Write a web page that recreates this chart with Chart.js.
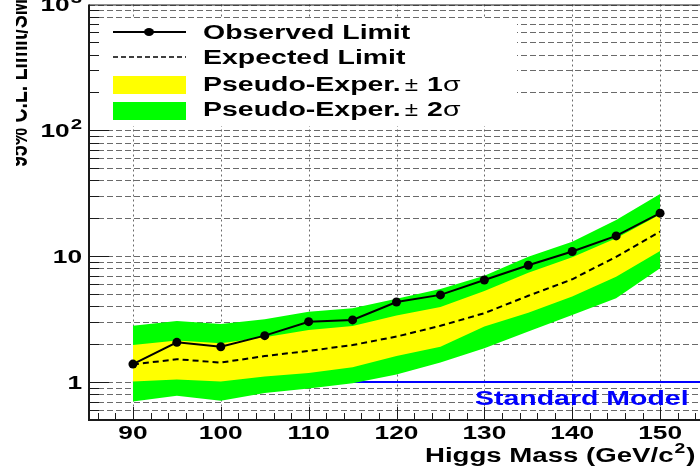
<!DOCTYPE html>
<html>
<head>
<meta charset="utf-8">
<script src="https://cdn.jsdelivr.net/npm/chart.js@4.4.1/dist/chart.umd.min.js"></script>
<style>
  html, body { margin: 0; padding: 0; background: #fff; overflow: hidden; }
  body { width: 700px; height: 467px; position: relative; }
  #limit-canvas { position: absolute; left: 16px; top: 0; }
</style>
</head>
<body>
<canvas id="limit-canvas" width="700" height="467"></canvas>
<script>
// Higgs mass points (GeV/c^2) and 95% C.L. limits / SM
const masses   = [90, 95, 100, 105, 110, 115, 120, 125, 130, 135, 140, 145, 150];
const observed = [1.39, 2.07, 1.91, 2.34, 3.02, 3.12, 4.33, 4.93, 6.48, 8.48, 10.9, 14.5, 22.0];
const expected = [1.38, 1.52, 1.43, 1.61, 1.77, 1.97, 2.30, 2.80, 3.53, 4.85, 6.56, 9.9, 15.7];
const plus1    = [1.97, 2.14, 2.04, 2.27, 2.60, 2.79, 3.38, 3.95, 5.30, 7.40, 9.8, 13.9, 21.5];
const minus1   = [1.01, 1.05, 1.01, 1.11, 1.18, 1.31, 1.61, 1.91, 2.76, 3.55, 4.78, 6.88, 11.0];
const plus2    = [2.81, 3.06, 2.90, 3.16, 3.63, 3.86, 4.60, 5.50, 7.00, 9.90, 13.06, 19.4, 31.2];
const minus2   = [0.70, 0.78, 0.71, 0.82, 0.89, 0.98, 1.15, 1.43, 1.86, 2.52, 3.42, 4.64, 8.03];

// standard model reference level
const smMass  = [90, 155];
const smLevel = [1, 1];

const xTickValues = [90, 100, 110, 120, 130, 140, 150];
const yTickValues = [1, 10, 100, 1000];
const yTickBase   = ["1", "10", "10", "10"];
const yTickExp    = ["", "", "2", "3"];

const legendLabels = ["Observed Limit", "Expected Limit", "Pseudo-Exper.", "Pseudo-Exper."];

const FONT = "'Liberation Sans', Arial, Helvetica, sans-serif";
const STRETCH = 1.46;

function points(xs, ys) {
  return xs.map((x, i) => ({ x: x, y: ys[i] }));
}

// draws text squeezed wider, the way the labels sit on this plot
function wideText(ctx, text, x, y, sx, align) {
  ctx.save();
  ctx.translate(x, y);
  ctx.scale(sx, 1);
  ctx.textAlign = align || "left";
  ctx.fillText(text, 0, 0);
  ctx.restore();
}

function textWidth(ctx, text, sx) {
  return ctx.measureText(text).width * sx;
}

const rootFrame = {
  id: "rootFrame",
  beforeDatasetsDraw(chart) {
    const ctx = chart.ctx;
    const a = chart.chartArea;
    const xs = chart.scales.x;
    const ys = chart.scales.y;
    ctx.save();
    ctx.lineWidth = 1;
    ctx.strokeStyle = "#6a6a6a";

    // horizontal dashed grid on every decade step
    ctx.setLineDash([6, 3]);
    for (let e = -1; e <= 3; e++) {
      for (let k = 1; k <= 9; k++) {
        const v = k * Math.pow(10, e);
        if (v <= ys.min || v > ys.max) continue;
        const y = Math.round(ys.getPixelForValue(v)) + 0.5;
        ctx.beginPath();
        ctx.moveTo(a.left, y);
        ctx.lineTo(a.right, y);
        ctx.stroke();
      }
    }

    // vertical dotted grid at the labelled masses
    ctx.setLineDash([2, 3]);
    xTickValues.forEach((v) => {
      const x = Math.round(xs.getPixelForValue(v)) + 0.5;
      ctx.beginPath();
      ctx.moveTo(x, a.top);
      ctx.lineTo(x, a.bottom);
      ctx.stroke();
    });
    ctx.restore();
  },

  afterDatasetsDraw(chart) {
    const ctx = chart.ctx;
    const a = chart.chartArea;
    const xs = chart.scales.x;
    const ys = chart.scales.y;
    ctx.save();

    // legend box
    ctx.fillStyle = "#fff";
    ctx.fillRect(a.left, 18, 428, 108);

    ctx.strokeStyle = "#000";
    ctx.lineWidth = 2;
    ctx.beginPath();
    ctx.moveTo(97, 32);
    ctx.lineTo(170, 32);
    ctx.stroke();
    ctx.fillStyle = "#000";
    ctx.beginPath();
    ctx.ellipse(133, 32, 5, 4, 0, 0, Math.PI * 2);
    ctx.fill();

    ctx.lineWidth = 1.5;
    ctx.setLineDash([5, 3]);
    ctx.beginPath();
    ctx.moveTo(97, 57);
    ctx.lineTo(170, 57);
    ctx.stroke();
    ctx.setLineDash([]);

    ctx.fillStyle = "#ffff00";
    ctx.fillRect(97, 76, 73, 18);
    ctx.fillStyle = "#00ff00";
    ctx.fillRect(97, 102, 73, 18);

    ctx.fillStyle = "#000";
    const bold = "bold 19.5px " + FONT;
    const plain = "19.5px " + FONT;
    const baselines = [39, 64, 91, 116];
    legendLabels.forEach((label, i) => {
      ctx.font = bold;
      wideText(ctx, label, 187, baselines[i], STRETCH);
      if (i >= 2) {
        let x = 187 + textWidth(ctx, label, STRETCH) + 4;
        ctx.font = plain;
        wideText(ctx, "\u00b1", x, baselines[i], STRETCH * 0.85);
        x += textWidth(ctx, "\u00b1", STRETCH * 0.85) + 9;
        ctx.font = bold;
        wideText(ctx, i === 2 ? "1" : "2", x, baselines[i], STRETCH);
        x += textWidth(ctx, "1", STRETCH);
        ctx.font = plain;
        wideText(ctx, "\u03c3", x, baselines[i], STRETCH);
      }
    });

    // Standard Model label under the blue line
    ctx.fillStyle = "#0000ff";
    ctx.font = bold;
    wideText(ctx, "Standard Model", 459, 405, STRETCH);

    // frame
    ctx.strokeStyle = "#1a1a1a";
    ctx.lineWidth = 1;
    ctx.beginPath();
    ctx.moveTo(a.left, a.top + 0.5);
    ctx.lineTo(a.right, a.top + 0.5);
    ctx.stroke();
    ctx.lineWidth = 2;
    ctx.beginPath();
    ctx.moveTo(a.left, a.top);
    ctx.lineTo(a.left, a.bottom);
    ctx.lineTo(a.right, a.bottom);
    ctx.lineTo(a.right, a.top);
    ctx.stroke();

    // ticks pointing into the frame
    ctx.lineWidth = 1;
    for (let e = -1; e <= 3; e++) {
      for (let k = 1; k <= 9; k++) {
        const v = k * Math.pow(10, e);
        if (v <= ys.min || v >= ys.max) continue;
        const y = Math.round(ys.getPixelForValue(v)) + 0.5;
        const len = k === 1 ? 20 : 10;
        ctx.beginPath();
        ctx.moveTo(a.left, y);
        ctx.lineTo(a.left + len, y);
        ctx.stroke();
      }
    }
    for (let m = 86; m < xs.max; m += 2) {
      const x = Math.round(xs.getPixelForValue(m)) + 0.5;
      const len = m % 10 === 0 ? 13 : 7;
      ctx.beginPath();
      ctx.moveTo(x, a.bottom);
      ctx.lineTo(x, a.bottom - len);
      ctx.stroke();
    }

    // tick labels
    ctx.fillStyle = "#000";
    ctx.font = "bold 18px " + FONT;
    xTickValues.forEach((v) => {
      wideText(ctx, String(v), xs.getPixelForValue(v), 439, STRETCH, "center");
    });
    yTickValues.forEach((v, i) => {
      const y = ys.getPixelForValue(v) + 6.7;
      let right = 66;
      if (yTickExp[i]) {
        ctx.font = "bold 14px " + FONT;
        wideText(ctx, yTickExp[i], right, y - 8, STRETCH, "right");
        right -= textWidth(ctx, yTickExp[i], STRETCH) + 1;
      }
      ctx.font = "bold 18px " + FONT;
      wideText(ctx, yTickBase[i], right, y, STRETCH, "right");
    });

    // axis titles
    ctx.font = "bold 20px " + FONT;
    const tx = 409;
    const t1 = "Higgs Mass (GeV/c";
    wideText(ctx, t1, tx, 462, 1.38);
    let ex = tx + textWidth(ctx, t1, 1.38) + 1;
    ctx.font = "bold 14px " + FONT;
    wideText(ctx, "2", ex, 453, 1.38);
    ex += textWidth(ctx, "2", 1.38) + 1;
    ctx.font = "bold 20px " + FONT;
    wideText(ctx, ")", ex, 462, 1.38);

    ctx.font = "bold 19.5px " + FONT;
    ctx.translate(11, 167);
    ctx.rotate(-Math.PI / 2);
    ctx.scale(1, STRETCH);
    ctx.textAlign = "left";
    ctx.fillText("95% C.L. Limit/SM", 0, 0);

    ctx.restore();
  },
};

const clear = "rgba(0,0,0,0)";

new Chart(document.getElementById("limit-canvas"), {
  type: "line",
  data: {
    datasets: [
      {
        label: "Observed Limit",
        data: points(masses, observed),
        borderColor: "#000",
        borderWidth: 2,
        pointRadius: 4.5,
        pointBackgroundColor: "#000",
        pointBorderWidth: 0,
        order: 0,
      },
      {
        label: "Expected Limit",
        data: points(masses, expected),
        borderColor: "#000",
        borderWidth: 2,
        borderDash: [6, 4],
        pointRadius: 0,
        order: 1,
      },
      {
        label: "+1 sigma",
        data: points(masses, plus1),
        borderColor: clear,
        borderWidth: 0,
        backgroundColor: "#ffff00",
        pointRadius: 0,
        fill: 3,
        order: 2,
      },
      {
        label: "-1 sigma",
        data: points(masses, minus1),
        borderColor: clear,
        borderWidth: 0,
        pointRadius: 0,
        fill: false,
        order: 3,
      },
      {
        label: "+2 sigma",
        data: points(masses, plus2),
        borderColor: clear,
        borderWidth: 0,
        backgroundColor: "#00ff00",
        pointRadius: 0,
        fill: 5,
        order: 4,
      },
      {
        label: "-2 sigma",
        data: points(masses, minus2),
        borderColor: clear,
        borderWidth: 0,
        pointRadius: 0,
        fill: false,
        order: 5,
      },
      {
        label: "Standard Model",
        data: points(smMass, smLevel),
        borderColor: "#0000ff",
        borderWidth: 2,
        pointRadius: 0,
        order: 6,
      },
    ],
  },
  options: {
    responsive: false,
    animation: false,
    events: [],
    layout: {
      padding: { left: 73, top: 4.5, right: 12, bottom: 47 },
    },
    scales: {
      x: { type: "linear", min: 85, max: 155, display: false },
      y: { type: "logarithmic", min: 0.5, max: 1000, display: false },
    },
    elements: {
      line: { tension: 0 },
    },
    plugins: {
      legend: { display: false },
      tooltip: { enabled: false },
    },
  },
  plugins: [rootFrame],
});
</script>
</body>
</html>
